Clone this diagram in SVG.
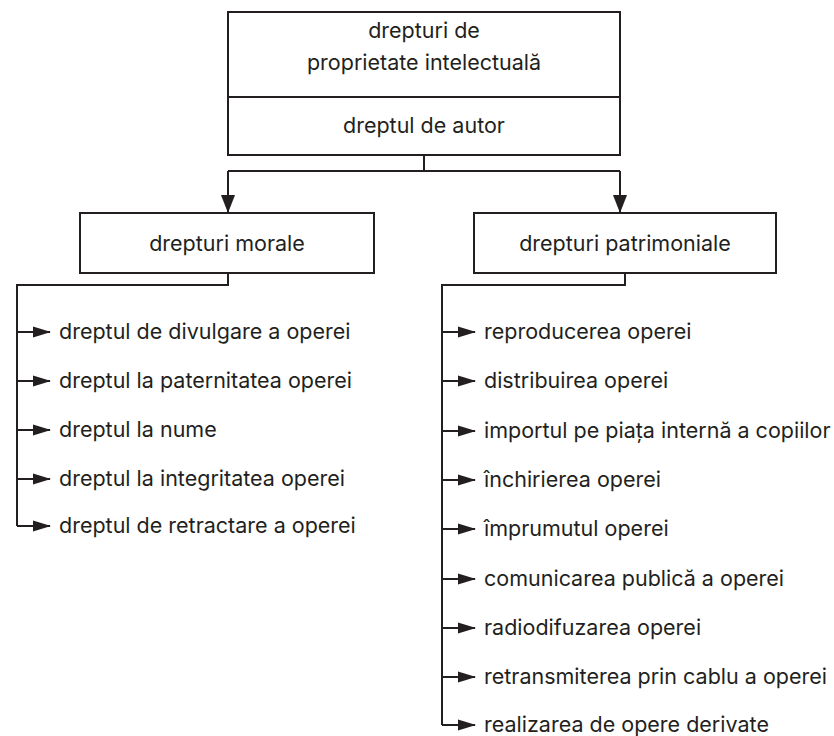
<svg xmlns="http://www.w3.org/2000/svg" width="834" height="736" viewBox="0 0 834 736">
<defs>
<marker id="ah" viewBox="0 0 18 12" refX="17" refY="6" markerWidth="9" markerHeight="6" orient="auto">
<path d="M0,0.5 L18,6 L0,11.5 Z" fill="#231f20"/>
</marker>
<marker id="ahd" viewBox="0 0 18 14" refX="17" refY="7" markerWidth="9" markerHeight="7" orient="auto">
<path d="M0,0 L18,7 L0,14 Z" fill="#231f20"/>
</marker>
<style>
.box{fill:#fff;stroke:#231f20;stroke-width:2}
.ln{fill:none;stroke:#231f20;stroke-width:2}
.t{font-family:Inter,"Liberation Sans",sans-serif;font-size:21.5px;fill:#231f20}
.c{text-anchor:middle}
</style>
</defs>
<rect width="834" height="736" fill="#fff"/>
<g id="connectors">
<path class="ln" d="M424,155 V171 M228,171 H620"/>
<path class="ln" d="M228,171 V212" marker-end="url(#ahd)"/>
<path class="ln" d="M620,171 V212" marker-end="url(#ahd)"/>
<path class="ln" d="M228,273 V285 H17 V526"/>
<path class="ln" d="M17,332 H50" marker-end="url(#ah)"/>
<path class="ln" d="M17,381 H50" marker-end="url(#ah)"/>
<path class="ln" d="M17,430 H50" marker-end="url(#ah)"/>
<path class="ln" d="M17,479 H50" marker-end="url(#ah)"/>
<path class="ln" d="M17,526 H50" marker-end="url(#ah)"/>
<path class="ln" d="M625,273 V285 H442 V725"/>
<path class="ln" d="M442,332 H475" marker-end="url(#ah)"/>
<path class="ln" d="M442,381 H475" marker-end="url(#ah)"/>
<path class="ln" d="M442,431 H475" marker-end="url(#ah)"/>
<path class="ln" d="M442,480 H475" marker-end="url(#ah)"/>
<path class="ln" d="M442,529 H475" marker-end="url(#ah)"/>
<path class="ln" d="M442,579 H475" marker-end="url(#ah)"/>
<path class="ln" d="M442,628 H475" marker-end="url(#ah)"/>
<path class="ln" d="M442,677 H475" marker-end="url(#ah)"/>
<path class="ln" d="M442,725 H475" marker-end="url(#ah)"/>
</g>
<g id="root">
<rect class="box" x="228" y="12" width="392" height="143"/>
<line class="ln" x1="228" y1="97" x2="620" y2="97"/>
<text class="t c" x="424" y="38">drepturi de</text>
<text class="t c" x="424" y="70">proprietate intelectuală</text>
<text class="t c" x="424" y="133">dreptul de autor</text>
</g>
<g id="morale">
<rect class="box" x="80" y="213" width="294" height="60"/>
<text class="t c" x="227" y="251">drepturi morale</text>
</g>
<g id="patrimoniale">
<rect class="box" x="474" y="213" width="302" height="60"/>
<text class="t c" x="625" y="251">drepturi patrimoniale</text>
</g>
<g id="morale-items">
<text class="t" x="59" y="339">dreptul de divulgare a operei</text>
<text class="t" x="59" y="388">dreptul la paternitatea operei</text>
<text class="t" x="59" y="437">dreptul la nume</text>
<text class="t" x="59" y="486">dreptul la integritatea operei</text>
<text class="t" x="59" y="533">dreptul de retractare a operei</text>
</g>
<g id="patrimoniale-items">
<text class="t" x="484" y="339">reproducerea operei</text>
<text class="t" x="484" y="388">distribuirea operei</text>
<text class="t" x="484" y="438">importul pe piața internă a copiilor</text>
<text class="t" x="484" y="487">închirierea operei</text>
<text class="t" x="484" y="536">împrumutul operei</text>
<text class="t" x="484" y="586">comunicarea publică a operei</text>
<text class="t" x="484" y="635">radiodifuzarea operei</text>
<text class="t" x="484" y="684">retransmiterea prin cablu a operei</text>
<text class="t" x="484" y="732">realizarea de opere derivate</text>
</g>
</svg>
